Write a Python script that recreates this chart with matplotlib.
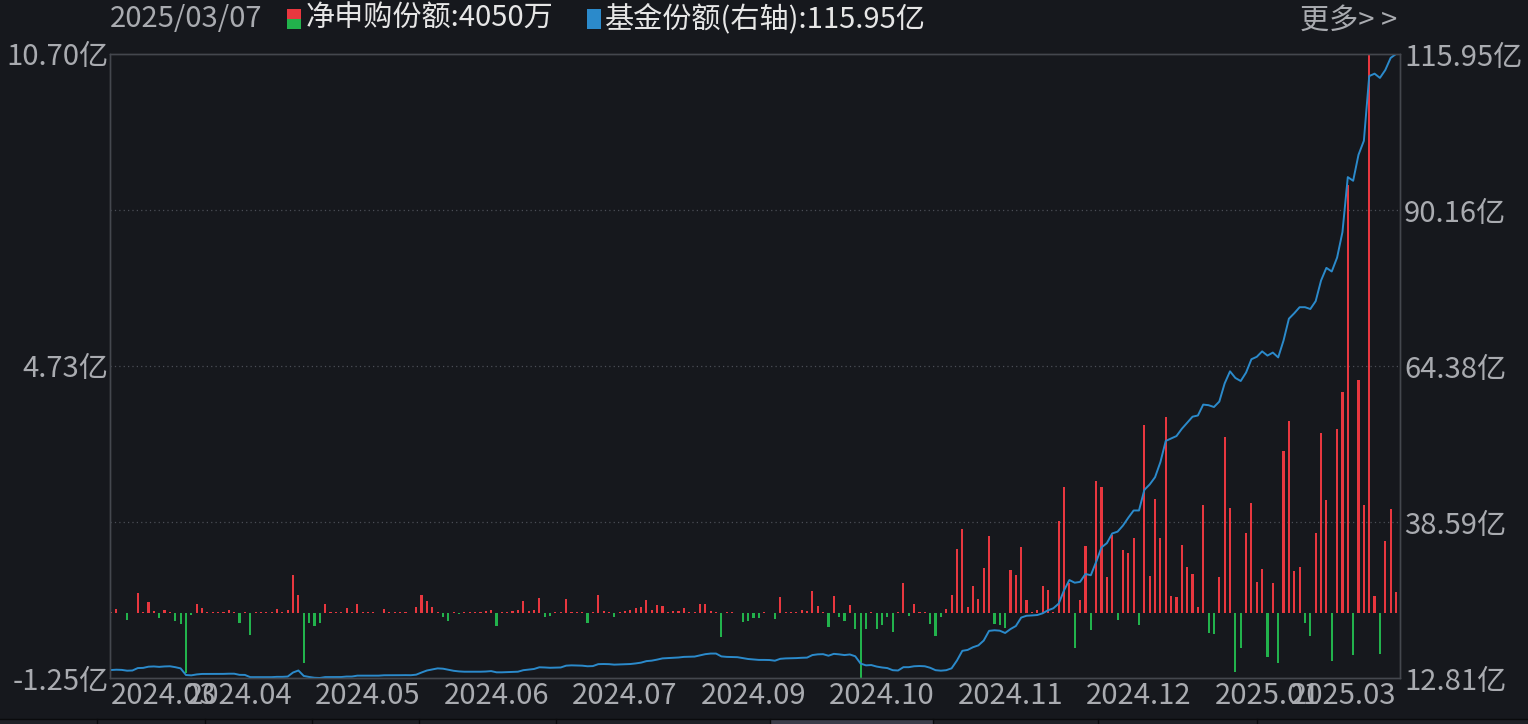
import numpy as np
import matplotlib
matplotlib.use("Agg")
import matplotlib.pyplot as plt
from matplotlib import font_manager as fm
from matplotlib.patches import Rectangle

# net subscription per trading day (亿)
net_sub = [
    0.01, 0.07, -0.01, -0.14, -0.01, 0.38, 0.01, 0.20, 0.03, -0.10,
    0.05, 0.01, -0.16, -0.22, -1.15, -0.04, 0.17, 0.09, 0.01, 0.01,
    0.01, 0.01, 0.05, 0.01, -0.19, 0.01, -0.43, 0.01, 0.01, 0.01,
    0.01, 0.07, 0.01, 0.05, 0.72, 0.33, -0.96, -0.20, -0.26, -0.19,
    0.17, 0.01, 0.01, 0.01, 0.10, 0.01, 0.17, 0.01, 0.01, 0.01,
    -0.01, 0.07, 0.01, 0.01, 0.01, 0.01, -0.01, 0.11, 0.34, 0.23,
    0.11, 0.01, -0.08, -0.15, 0.01, -0.02, 0.01, 0.01, 0.01, 0.01,
    0.04, 0.05, -0.25, 0.01, 0.01, 0.04, 0.05, 0.23, 0.04, 0.06,
    0.28, -0.08, -0.06, 0.01, 0.01, 0.26, 0.01, 0.01, 0.01, -0.19,
    0.01, 0.34, 0.04, 0.01, -0.08, 0.01, 0.04, 0.05, 0.10, 0.11,
    0.24, 0.05, 0.15, 0.13, 0.01, 0.04, 0.04, 0.10, 0.01, 0.01,
    0.17, 0.17, 0.04, 0.01, -0.46, 0.01, 0.01, -0.01, -0.17, -0.15,
    -0.11, -0.10, 0.01, -0.01, -0.12, 0.31, 0.01, 0.01, 0.02, 0.05,
    0.03, 0.42, 0.12, 0.02, -0.27, 0.32, -0.08, -0.15, 0.15, -0.32,
    -1.25, -0.32, 0.01, -0.32, -0.24, -0.09, -0.36, 0.01, 0.57, -0.06,
    0.17, 0.01, 0.01, -0.22, -0.45, -0.08, 0.08, 0.34, 1.22, 1.60,
    0.11, 0.51, 0.27, 0.86, 1.46, -0.22, -0.24, -0.30, 0.82, 0.73,
    1.26, 0.24, 0.01, 0.05, 0.51, 0.43, 0.01, 1.76, 2.41, 0.56,
    -0.68, 0.24, 1.28, -0.33, 2.53, 2.41, 0.69, 1.49, -0.14, 1.20,
    1.15, 1.44, -0.24, 3.60, 0.70, 2.18, 1.44, 3.75, 0.32, 0.31,
    1.30, 0.88, 0.75, 0.11, 2.06, -0.38, -0.40, 0.69, 3.37, 2.01,
    -1.13, -0.68, 1.52, 2.11, 0.59, 0.84, -0.84, 0.57, -0.97, 3.10,
    3.68, 0.80, 0.88, -0.20, -0.44, 1.52, 3.45, 2.16, -0.92, 3.52,
    4.23, 8.19, -0.81, 4.46, 2.06, 10.70, 0.32, -0.79, 1.37, 1.99,
    0.405,
]

# fund shares (亿, right axis)
fund_shares = [
    14.13, 14.18, 14.15, 14.02, 14.05, 14.45, 14.48, 14.68, 14.72, 14.65,
    14.72, 14.75, 14.60, 14.40, 13.30, 13.25, 13.40, 13.48, 13.48, 13.48,
    13.49, 13.49, 13.52, 13.52, 13.33, 13.32, 12.95, 12.95, 12.95, 12.95,
    12.95, 13.00, 13.00, 13.05, 13.72, 14.05, 13.15, 12.98, 12.85, 12.81,
    12.96, 12.96, 12.97, 12.97, 13.05, 13.05, 13.20, 13.20, 13.20, 13.21,
    13.20, 13.26, 13.26, 13.27, 13.27, 13.28, 13.27, 13.36, 13.72, 14.05,
    14.22, 14.40, 14.35, 14.18, 14.00, 13.90, 13.85, 13.85, 13.85, 13.85,
    13.88, 13.95, 13.75, 13.75, 13.78, 13.82, 13.85, 14.10, 14.20, 14.30,
    14.58, 14.55, 14.50, 14.52, 14.55, 14.85, 14.90, 14.88, 14.85, 14.75,
    14.78, 15.10, 15.12, 15.10, 15.02, 15.05, 15.08, 15.12, 15.22, 15.35,
    15.60, 15.68, 15.85, 16.05, 16.10, 16.14, 16.20, 16.30, 16.32, 16.35,
    16.55, 16.75, 16.85, 16.85, 16.38, 16.30, 16.28, 16.25, 16.10, 15.95,
    15.88, 15.80, 15.80, 15.78, 15.67, 15.98, 16.05, 16.07, 16.10, 16.15,
    16.18, 16.60, 16.72, 16.75, 16.49, 16.80, 16.72, 16.60, 16.70, 16.40,
    15.20, 14.90, 14.95, 14.70, 14.55, 14.45, 14.10, 14.05, 14.60, 14.60,
    14.75, 14.79, 14.75, 14.50, 14.10, 14.02, 14.10, 14.41, 15.70, 17.30,
    17.45, 17.90, 18.20, 19.00, 20.60, 20.70, 20.63, 20.25, 20.90, 21.40,
    22.80, 23.10, 23.15, 23.22, 23.50, 24.00, 24.33, 25.10, 27.30, 29.00,
    28.56, 28.70, 30.00, 29.80, 32.00, 34.40, 35.10, 36.70, 37.00, 38.00,
    39.30, 40.50, 40.50, 43.90, 44.80, 46.00, 48.50, 52.00, 52.40, 52.80,
    54.00, 55.00, 56.00, 56.20, 58.00, 57.90, 57.60, 58.50, 61.50, 63.50,
    62.40, 61.90, 63.30, 65.50, 65.90, 66.80, 66.10, 66.60, 65.80, 68.60,
    72.20, 73.10, 74.10, 74.10, 73.80, 75.10, 78.50, 80.60, 80.00, 82.30,
    86.50, 95.60, 95.00, 99.30, 101.60, 112.30, 112.70, 112.00, 113.30, 115.30,
    115.95,
]

tick_pos = [0, 24, 48, 72, 96, 120, 144, 168, 192, 216, 240]
tick_labels = ["2024.03", "2024.04", "2024.05", "2024.06", "2024.07", "2024.09",
               "2024.10", "2024.11", "2024.12", "2025.01", "2025.03"]
left_ticks = [-1.25, 4.73, 10.70]
left_labels = ["-1.25亿", "4.73亿", "10.70亿"]
right_ticks = [12.81, 38.59, 64.38, 90.16, 115.95]
right_labels = ["12.81亿", "38.59亿", "64.38亿", "90.16亿", "115.95亿"]

# fonts: narrow latin face if present, CJK fallback for 亿 etc.
names = {f.name for f in fm.fontManager.ttflist}
if "Liberation Sans Narrow" in names:
    fam = ["Liberation Sans Narrow", "Noto Sans CJK SC"]
    fs = 23
else:
    fam = ["Noto Sans CJK SC", "DejaVu Sans"]
    fs = 21
plt.rcParams["font.family"] = fam

BG = "#16181d"
GRAY = "#a9abb0"
WHITE = "#e6e6e6"
RED = "#e8373f"
GREEN = "#22b24c"
BLUE = "#2b8acb"
EDGE = "#44474e"

W, H = 1528, 724
fig = plt.figure(figsize=(W / 100, H / 100), dpi=100, facecolor=BG)

x0, x1, ytop, ybot = 110, 1400, 54, 678
ax = fig.add_axes([x0 / W, 1 - ybot / H, (x1 - x0) / W, (ybot - ytop) / H])
ax.set_facecolor(BG)

idx = np.arange(len(net_sub))
vals = np.array(net_sub)
colors = [RED if v >= 0 else GREEN for v in vals]
ax.bar(idx, vals, width=0.4, color=colors, linewidth=0)

ax.set_xlim(-0.19, 240.75)
ax.set_ylim(-1.25, 10.70)
step = (10.70 + 1.25) / 4
for k in range(1, 4):
    ax.axhline(-1.25 + k * step, color="#4b4e56", lw=0.9, ls=(0, (1, 2.5)), zorder=0)

for s in ax.spines.values():
    s.set_color(EDGE)
    s.set_linewidth(1.0)

ax.set_yticks(left_ticks, left_labels)
ax.tick_params(axis="y", length=0, pad=1, colors=GRAY, labelsize=fs)
ax.set_xticks(tick_pos, tick_labels)
ax.tick_params(axis="x", length=0, pad=2, colors=GRAY, labelsize=fs)
labs = ax.get_xticklabels()
for i, t in enumerate(labs):
    if i == 0:
        t.set_ha("left")
    elif i == len(labs) - 1:
        t.set_ha("right")
    else:
        t.set_ha("center")

ax2 = ax.twinx()
ax2.plot(idx, fund_shares, color=BLUE, lw=1.4)
ax2.set_ylim(12.81, 115.95)
ax2.set_yticks(right_ticks, right_labels)
ax2.tick_params(axis="y", length=0, pad=3, colors=GRAY, labelsize=fs)
for s in ax2.spines.values():
    s.set_color(EDGE)
    s.set_linewidth(1.0)

# header
def fx(px):
    return px / W

def fy(py):
    return 1 - py / H

fig.text(fx(110), fy(19), "2025/03/07", color=GRAY, fontsize=fs, va="center", ha="left")
fig.add_artist(Rectangle((fx(287), fy(19)), 14 / W, 10 / H, transform=fig.transFigure,
                         color=RED, lw=0))
fig.add_artist(Rectangle((fx(287), fy(29)), 14 / W, 10 / H, transform=fig.transFigure,
                         color=GREEN, lw=0))
fig.text(fx(306), fy(19), "净申购份额:4050万", color=WHITE, fontsize=fs, va="center", ha="left")
fig.add_artist(Rectangle((fx(587), fy(29)), 14 / W, 20 / H, transform=fig.transFigure,
                         color=BLUE, lw=0))
fig.text(fx(605), fy(19), "基金份额(右轴):115.95亿", color=WHITE, fontsize=fs, va="center", ha="left")
fig.text(fx(1300), fy(21), "更多> >", color=GRAY, fontsize=fs, va="center", ha="left")

# tab strip at the bottom
fig.add_artist(Rectangle((0, 0), 1, 5 / H, transform=fig.transFigure, color="#1e2026", lw=0))
fig.add_artist(Rectangle((fx(770), 0), 163 / W, 5 / H, transform=fig.transFigure,
                         color="#3c3d4a", lw=0))
fig.add_artist(plt.Line2D([0, 1], [fy(719), fy(719)], transform=fig.transFigure,
                          color="#0a0b0d", lw=1))
for d in [97, 205, 312, 419, 556, 770, 933, 1098, 1257]:
    fig.add_artist(plt.Line2D([fx(d), fx(d)], [0, fy(719)], transform=fig.transFigure,
                              color="#0a0b0d", lw=1))

fig.savefig("out.png", dpi=100, facecolor=BG)
